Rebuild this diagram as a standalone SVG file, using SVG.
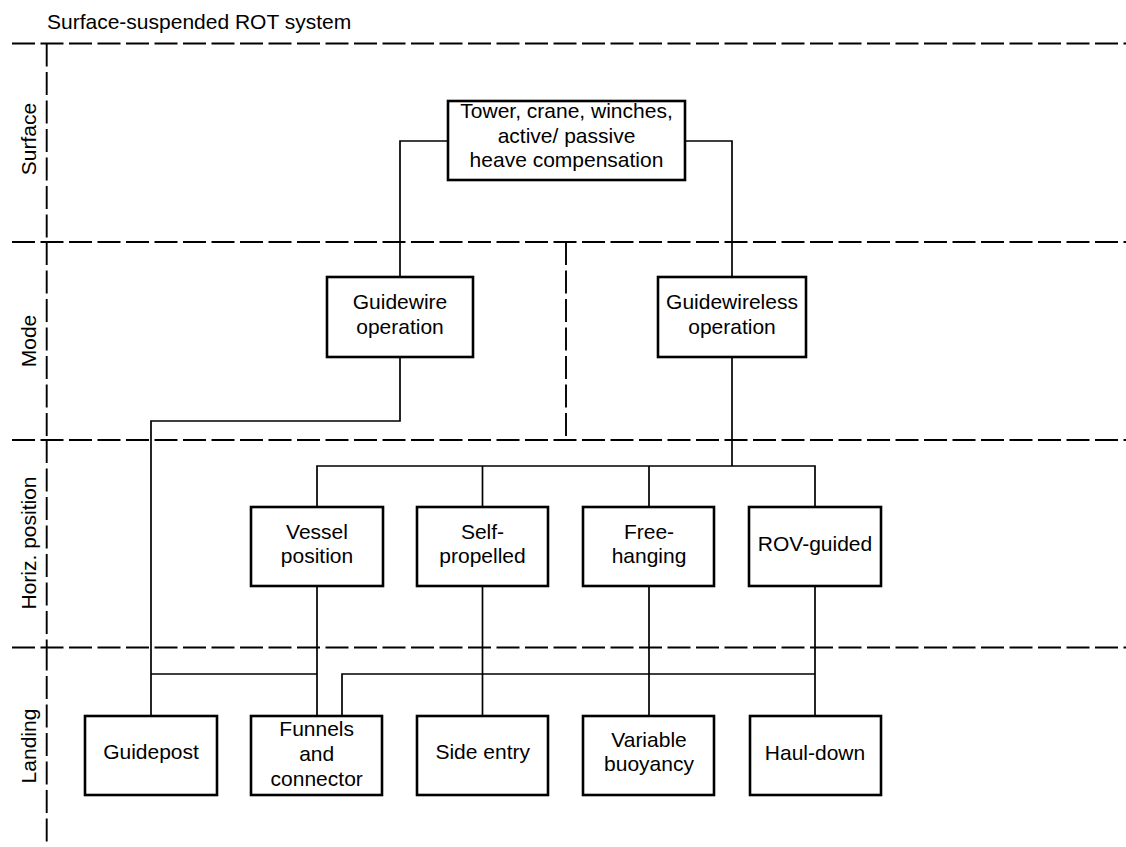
<svg xmlns="http://www.w3.org/2000/svg" width="1126" height="847" viewBox="0 0 1126 847">
<style>
text{font-family:"Liberation Sans",Arial,sans-serif;font-size:21px;fill:#000;text-anchor:middle}
.t{text-anchor:start}
.box{fill:#fff;stroke:#000;stroke-width:2.6}
.dash{fill:none;stroke:#000;stroke-width:1.9;stroke-dasharray:23 5.5}
.conn{fill:none;stroke:#000;stroke-width:1.7}
</style>
<rect width="1126" height="847" fill="#fff"/>
<g id="frame">
<text class="t" x="47" y="29">Surface-suspended ROT system</text>
<path class="dash" d="M12,43.5H1126M12,242H1126M12,440H1126M12,647.5H1126"/>
<path class="dash" d="M46.7,43.5V242M46.7,242V440M46.7,440V647.5M46.7,647.5V847"/>
<path class="dash" d="M566,242V440"/>
<text transform="translate(36,139) rotate(-90)">Surface</text>
<text transform="translate(36,341) rotate(-90)">Mode</text>
<text transform="translate(36,543) rotate(-90)">Horiz. position</text>
<text transform="translate(36,746) rotate(-90)">Landing</text>
</g>
<g id="connectors">
<path class="conn" d="M448,141H400V277"/>
<path class="conn" d="M685,141H732V277"/>
<path class="conn" d="M400,357V421H151V716"/>
<path class="conn" d="M732,357V466"/>
<path class="conn" d="M317,507V466H815V507M482.5,466V507M649,466V507"/>
<path class="conn" d="M151,674H317"/>
<path class="conn" d="M317,586V716M482.5,586V716M649,586V716M815,586V716"/>
<path class="conn" d="M342,716V674H815"/>
</g>
<g id="tower"><rect class="box" x="448" y="101" width="237" height="79"/><text x="566.5" y="118">Tower, crane, winches,</text><text x="566.5" y="143">active/ passive</text><text x="566.5" y="167">heave compensation</text></g>
<g id="guidewire"><rect class="box" x="327" y="277" width="146" height="80"/><text x="400" y="309">Guidewire</text><text x="400" y="334">operation</text></g>
<g id="guidewireless"><rect class="box" x="658" y="277" width="148" height="80"/><text x="732" y="309">Guidewireless</text><text x="732" y="334">operation</text></g>
<g id="vessel"><rect class="box" x="251" y="507" width="132" height="79"/><text x="317" y="539">Vessel</text><text x="317" y="563">position</text></g>
<g id="selfpropelled"><rect class="box" x="417" y="507" width="131" height="79"/><text x="482.5" y="539">Self-</text><text x="482.5" y="563">propelled</text></g>
<g id="freehanging"><rect class="box" x="583" y="507" width="131" height="79"/><text x="649" y="539">Free-</text><text x="649" y="563">hanging</text></g>
<g id="rovguided"><rect class="box" x="749" y="507" width="132" height="79"/><text x="815" y="551">ROV-guided</text></g>
<g id="guidepost"><rect class="box" x="85" y="716" width="132" height="79"/><text x="151" y="759">Guidepost</text></g>
<g id="funnels"><rect class="box" x="251" y="716" width="131" height="79"/><text x="316.7" y="736">Funnels</text><text x="316.7" y="761">and</text><text x="316.7" y="786">connector</text></g>
<g id="sideentry"><rect class="box" x="417" y="716" width="131" height="79"/><text x="482.7" y="759">Side entry</text></g>
<g id="variable"><rect class="box" x="583" y="716" width="131" height="79"/><text x="649" y="747">Variable</text><text x="649" y="771">buoyancy</text></g>
<g id="hauldown"><rect class="box" x="750" y="716" width="131" height="79"/><text x="815" y="760">Haul-down</text></g>
</svg>
